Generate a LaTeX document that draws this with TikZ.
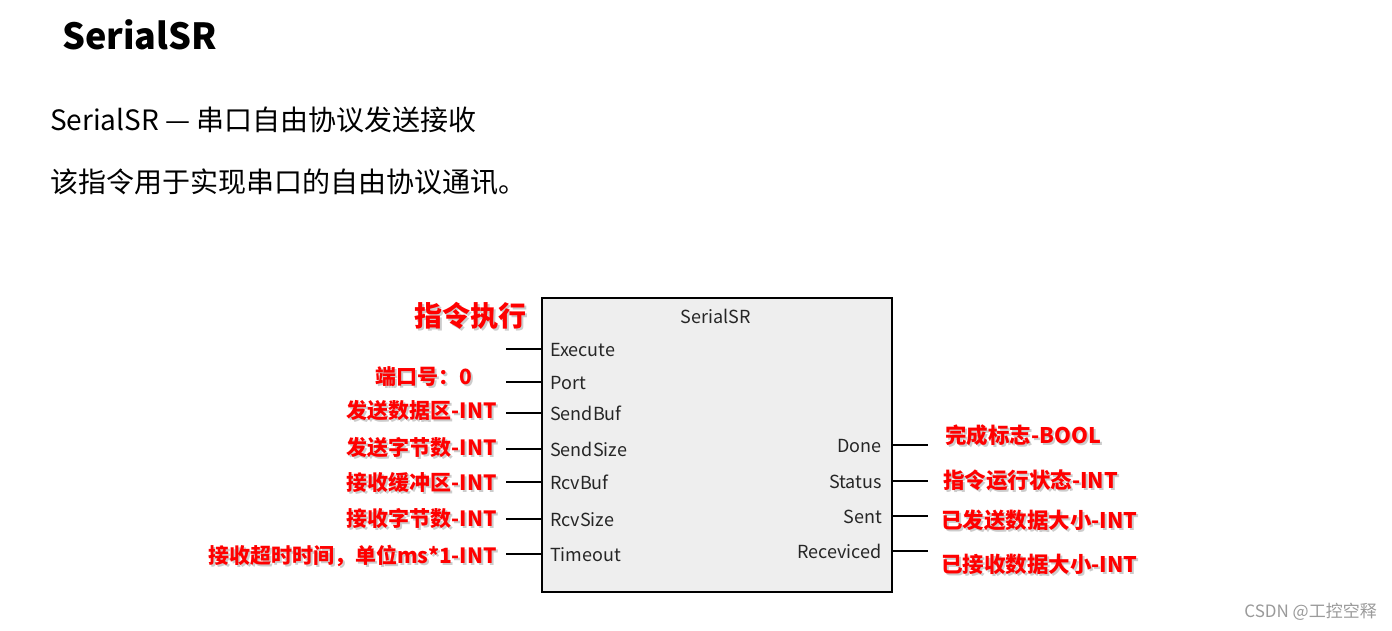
\documentclass[tikz,border=0pt]{standalone}
\usepackage{fontspec}
\newfontfamily\cjk{Noto Sans CJK SC}
\definecolor{boxgray}{HTML}{EEEEEE}
\definecolor{lblred}{HTML}{FF0000}
\definecolor{wmgray}{HTML}{9A9A9A}
\tikzset{
  port/.style={font=\cjk\fontsize{18}{20}\selectfont, inner sep=0pt, text=black!85},
  stub/.style={line width=1.6pt, black},
  redlab/.style={font=\cjk\bfseries\fontsize{21.5}{24}\selectfont, inner sep=0pt, text=lblred},
  redshadow/.style={font=\cjk\bfseries\fontsize{21.5}{24}\selectfont, inner sep=0pt, text=black, opacity=0.2},
}
\begin{document}
\begin{tikzpicture}[x=1pt,y=-1pt]
\useasboundingbox[fill=white] (0,0) rectangle (1392,630);
% headings
\node[anchor=base west, inner sep=0pt, font=\cjk\bfseries\fontsize{36}{42}\selectfont] (title) at (62,49) {SerialSR};
\node[anchor=base west, inner sep=0pt, font=\cjk\fontsize{28}{32}\selectfont] (sub) at (50,130) {SerialSR — 串口自由协议发送接收};
\node[anchor=base west, inner sep=0pt, font=\cjk\fontsize{28}{32}\selectfont] (desc) at (50,192) {该指令用于实现串口的自由协议通讯。};
% block
\node[draw, line width=1.8pt, fill=boxgray, minimum width=350pt, minimum height=294pt, inner sep=0pt, anchor=north west] (box) at (541,297) {};
\node[port, anchor=base] (name) at (716,323) {SerialSR};
% input ports
\foreach \n/\t/\y in {ex/Execute/349, po/Port/382, sb/SendBuf/413, ss/SendSize/449, rb/RcvBuf/482, rs/RcvSize/519, to/Timeout/554}{
  \coordinate (in\n) at (box.west |- 0,\y);
  \coordinate (free\n) at (506,\y);
  \draw[stub] (free\n) -- (in\n);
  \node[port, anchor=base west] (p\n) at (550,\y+7) {\t};
}
% output ports
\foreach \n/\t/\y in {dn/Done/445, st/Status/481, se/Sent/516, re/Receviced/551}{
  \coordinate (out\n) at (box.east |- 0,\y);
  \coordinate (free\n) at (928,\y);
  \draw[stub] (out\n) -- (free\n);
  \node[port, anchor=base east] (p\n) at (882,\y+7) {\t};
}
% red annotations, left
\foreach \n/\t/\x/\y/\s in {a/指令执行/527/326/28, b/端口号：0/472/384/21, c/发送数据区-INT/497/418/21, d/发送字节数-INT/497/455/21, e/接收缓冲区-INT/497/490/21, f/接收字节数-INT/497/526/21, g/接收超时时间，单位ms*1-INT/497/563/21}{
  \node[redshadow, anchor=base east, font=\cjk\bfseries\fontsize{\s}{\s}\selectfont] (sh\n) at (\x+2,\y+2) {\t};
  \node[redlab, anchor=base east, font=\cjk\bfseries\fontsize{\s}{\s}\selectfont] (l\n) at (\x,\y) {\t};
}
% red annotations, right
\foreach \n/\t/\x/\y in {h/完成标志-BOOL/945/443, i/指令运行状态-INT/943/488, j/已发送数据大小-INT/941/528, k/已接收数据大小-INT/941/572}{
  \node[redshadow, anchor=base west] (sh\n) at (\x+2,\y+2) {\t};
  \node[redlab, anchor=base west] (l\n) at (\x,\y) {\t};
}
% watermark
\node[anchor=base east, inner sep=0pt, text=wmgray, font=\cjk\fontsize{17}{20}\selectfont] (wm) at (1377,617) {CSDN @工控空释};
\end{tikzpicture}
\end{document}
